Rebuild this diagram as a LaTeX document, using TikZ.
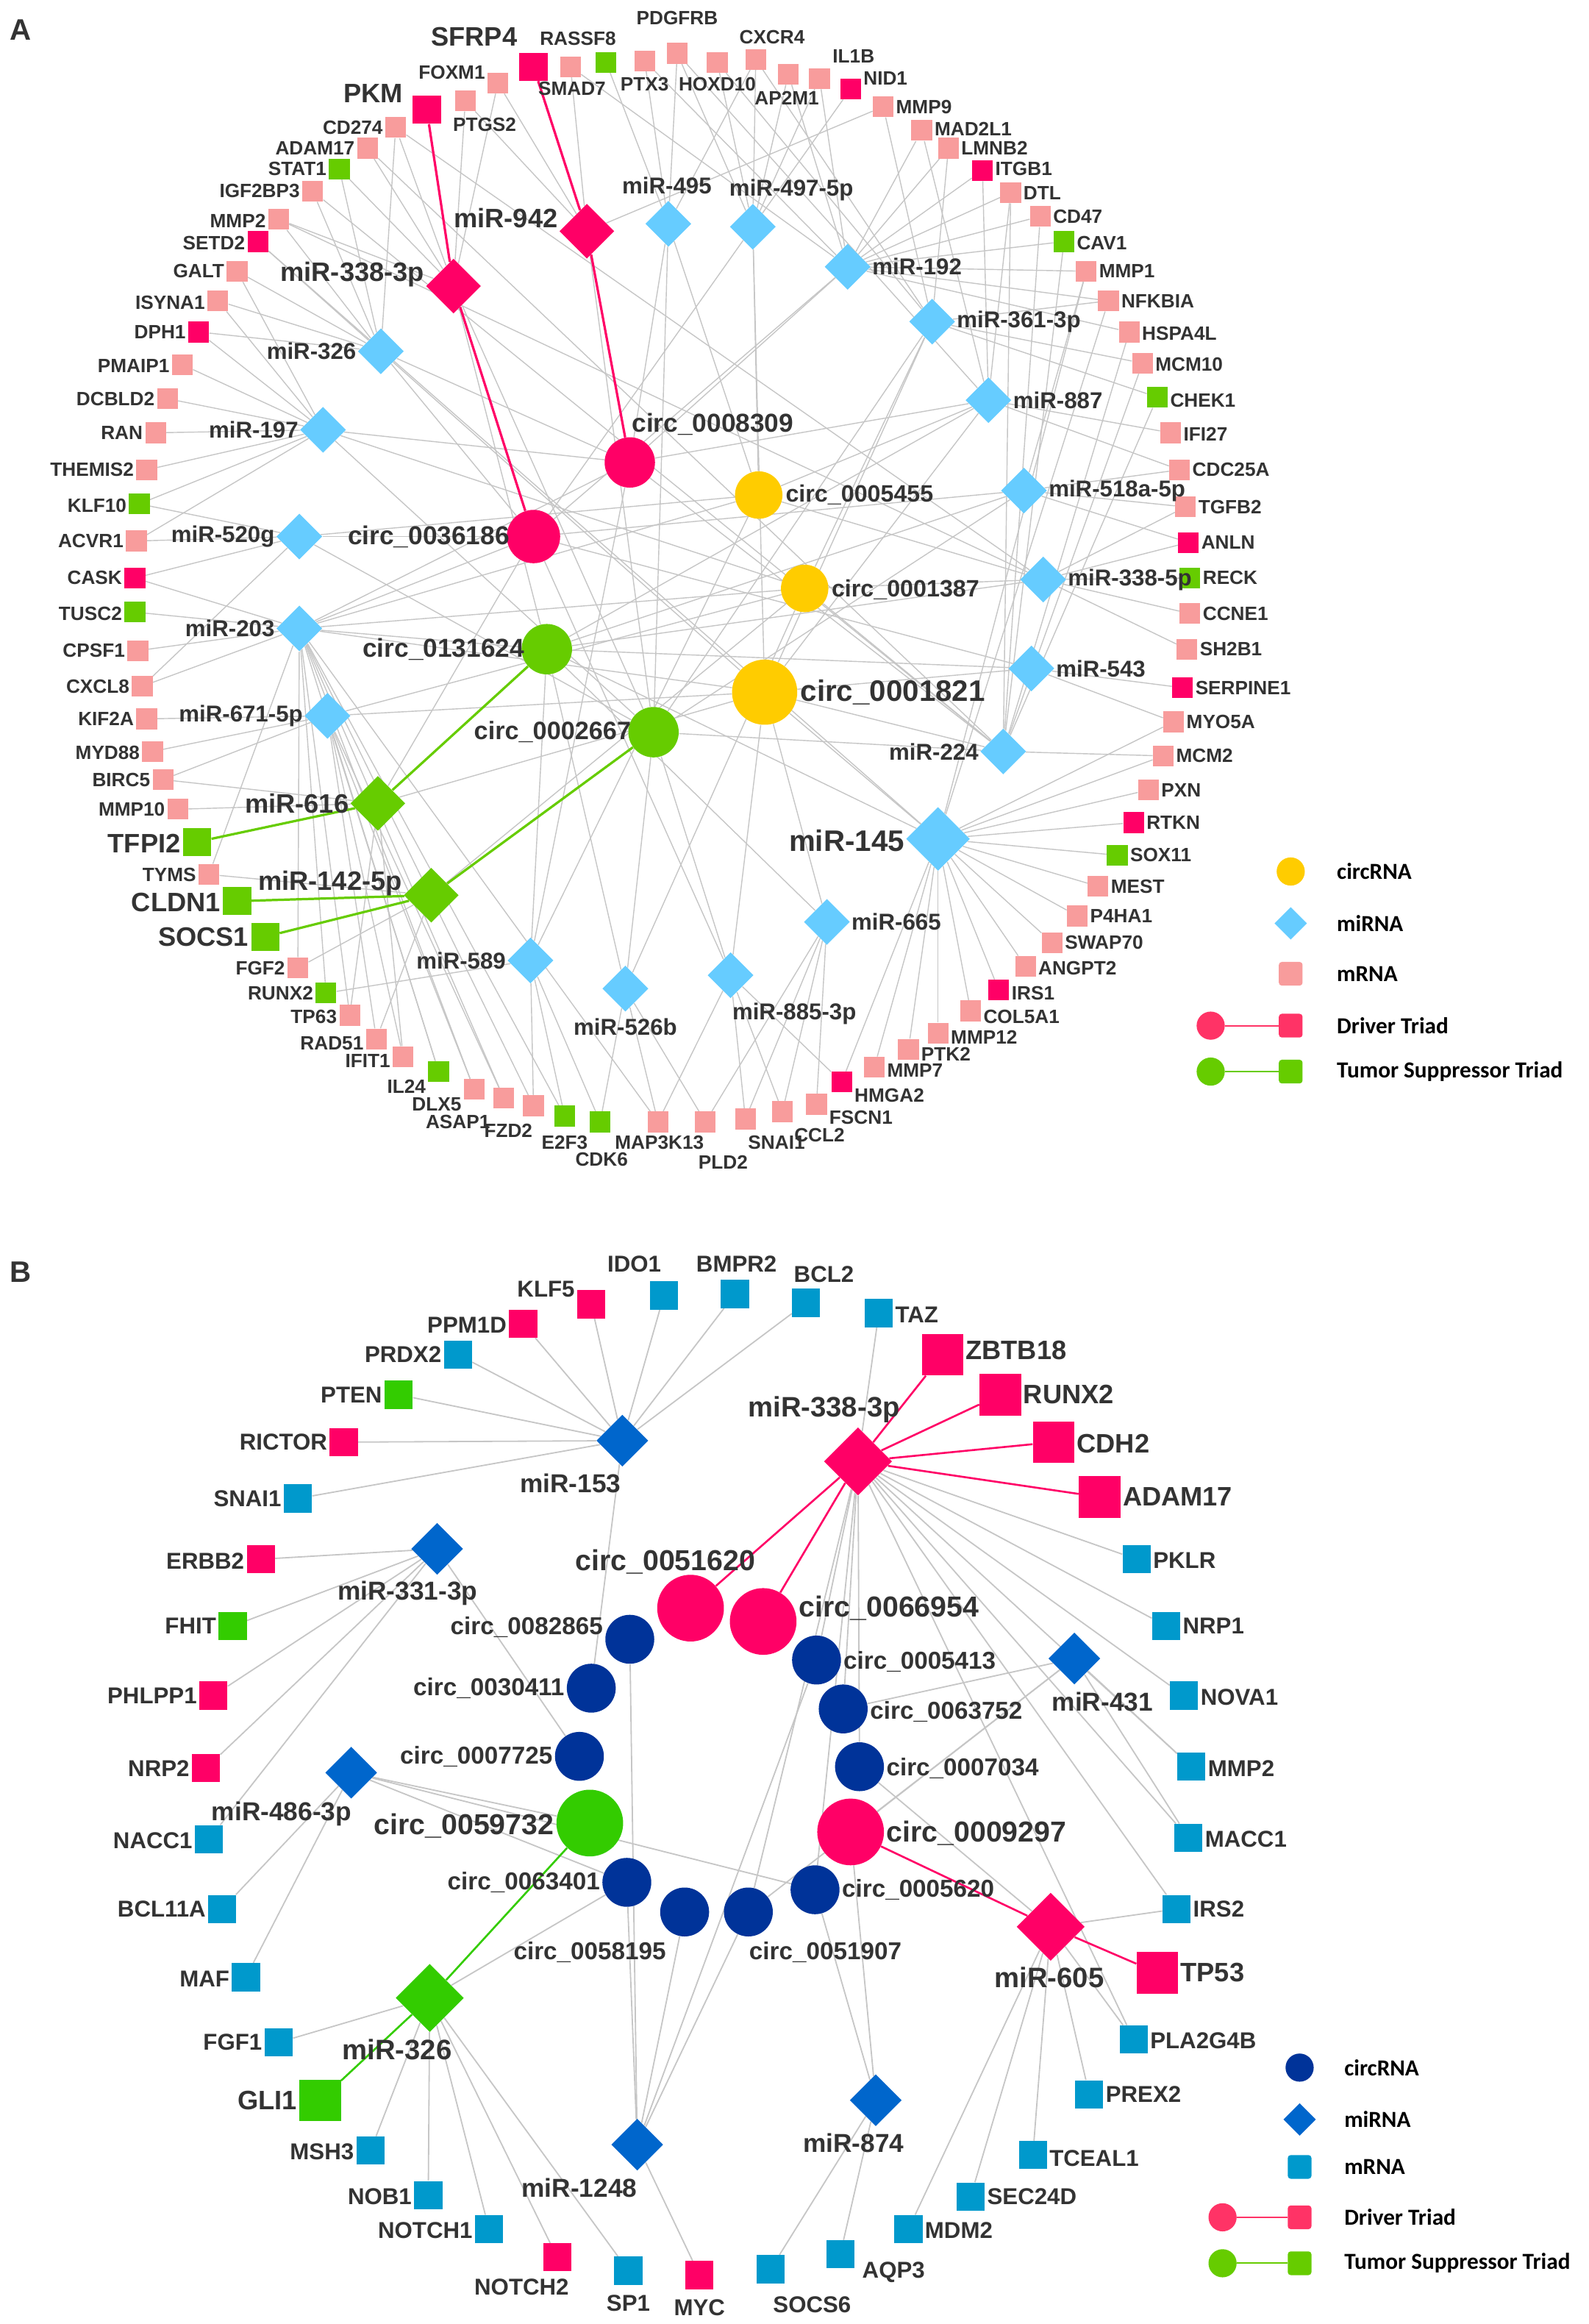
\documentclass[tikz,border=0pt]{standalone}
\usepackage{fontspec}
\setmainfont{Liberation Sans}
\newfontfamily\legfont{Carlito}
\usetikzlibrary{shapes.geometric}

\definecolor{apink}{HTML}{F89C9C}
\definecolor{drv}{HTML}{FF0066}
\definecolor{agreen}{HTML}{66CC00}
\definecolor{amir}{HTML}{66CCFF}
\definecolor{ayel}{HTML}{FFCC00}
\definecolor{bblue}{HTML}{0099CC}
\definecolor{bmir}{HTML}{0066CC}
\definecolor{bnavy}{HTML}{003399}
\definecolor{bgreen}{HTML}{33CC00}
\definecolor{lgdrv}{HTML}{FF3366}
\definecolor{edgegray}{HTML}{C6C6C6}
\definecolor{textgray}{HTML}{333333}

\pgfdeclarelayer{bg}
\pgfsetlayers{bg,main}

\tikzset{
  sq/.style={rectangle, inner sep=0pt, minimum size=#1},
  dia/.style={diamond, aspect=1, inner sep=0pt, minimum width=#1, minimum height=#1},
  rnd/.style={circle, inner sep=0pt, minimum size=#1},
  lab/.style={text=textgray, inner sep=0pt, font=\fontsize{#1}{#1}\selectfont\bfseries},
  legtext/.style={anchor=west, inner sep=0pt, font=\legfont\fontsize{15.5}{15.5}\selectfont\bfseries},
  edge/.style={draw=edgegray, line width=0.7pt},
  drvline/.style={draw=drv, line width=1.6pt},
  supline/.style={draw=agreen, line width=1.6pt},
}

% label beside a node: id, x, y, lx, ly, gap, size, text
\newcommand\putlab[8]{%
  \pgfmathtruncatemacro\labside{abs(#5-#3)>10 ? 0 : (#4>#2 ? 1 : -1)}%
  \ifnum\labside=1
    \node[lab=#7, anchor=west] (l#1) at (#2+#6,#5) {#8};%
  \else\ifnum\labside=-1
    \node[lab=#7, anchor=east] (l#1) at (#2-#6,#5) {#8};%
  \else
    \node[lab=#7] (l#1) at (#4,#5) {#8};%
  \fi\fi}

\begin{document}
\begin{tikzpicture}[x=1pt, y=-1pt]
\useasboundingbox (0,0) rectangle (1072,1568);

% ---------------- panel A ----------------
\node[lab=20] (panA) at (14,20) {A};

% mRNA, light
\foreach \id/\x/\y/\lx/\ly/\t in {
  foxm1/336/56/304/49/FOXM1, ptgs2/314/68/327/84/PTGS2, smad7/385/45/386/60/SMAD7,
  ptx3/435/41/435/57/PTX3, pdgfrb/457/36/457/12/PDGFRB, hoxd10/484/42/484/57/HOXD10,
  cxcr4/510/40/521/25/CXCR4, ap2m1/532/50/531/66/AP2M1, il1b/553/53/576/38/IL1B,
  mmp9/596/72/624/72/MMP9, mad2l1/622/88/660/87/MAD2L1, lmnb2/640/100/677/100/LMNB2,
  dtl/682/130/705/130/DTL, cd47/702/146/728/146/CD47, mmp1/733/183/761/183/MMP1,
  nfkbia/748/203/782/203/NFKBIA, hspa4l/762/224/794/225/HSPA4L, mcm10/771/245/802/246/MCM10,
  ifi27/790/292/814/293/IFI27, cdc25a/796/317/831/317/CDC25A, tgfb2/800/342/831/342/TGFB2,
  ccne1/803/414/833/414/CCNE1, sh2b1/801/438/830/438/SH2B1, myo5a/792/487/824/487/MYO5A,
  mcm2/785/510/812/510/MCM2, pxn/775/533/798/533/PXN, mest/741/598/768/598/MEST,
  p4ha1/727/618/757/618/P4HA1, swap70/710/636/746/636/SWAP70, angpt2/692/652/728/653/ANGPT2,
  col5a1/655/682/690/686/COL5A1, mmp12/633/697/665/700/MMP12, ptk2/613/708/640/711/PTK2,
  mmp7/590/720/617/722/MMP7, fscn1/551/745/588/754/FSCN1, ccl2/528/750/553/766/CCL2,
  snaiA/503/755/524/771/SNAI1, pld2/476/757/488/784/PLD2, map3k13/444/757/445/771/MAP3K13,
  fzd2/360/746/343/763/FZD2, asap1/340/741/309/757/ASAP1, dlx5/320/735/296/745/DLX5,
  ifit1/272/713/249/716/IFIT1, rad51/254/701/224/704/RAD51, tp63/236/685/211/686/TP63,
  fgf2/201/653/176/653/FGF2, tyms/141/590/113/590/TYMS, mmp10/120/546/88/546/MMP10,
  birc5/110/526/81/526/BIRC5, myd88/103/507/73/508/MYD88, kif2a/99/485/71/485/KIF2A,
  cxcl8/96/463/67/463/CXCL8, cpsf1/93/439/62/439/CPSF1, acvr1/92/365/61/365/ACVR1,
  themis2/99/317/62/317/THEMIS2, ran/105/292/83/292/RAN, dcbld2/113/269/78/269/DCBLD2,
  pmaip1/123/246/88/247/PMAIP1, isyna1/147/203/113/204/ISYNA1, galt/160/183/133/183/GALT,
  mmp2A/188/148/160/149/MMP2, igf2bp3/211/129/174/129/IGF2BP3, adam17A/248/100/213/100/ADAM17,
  cd274/267/86/238/86/CD274}{
  \node[sq=14pt, fill=apink] (\id) at (\x,\y) {};
  \putlab{\id}{\x}{\y}{\lx}{\ly}{8.5}{13}{\t}
}
% mRNA, driver
\foreach \id/\x/\y/\lx/\ly/\t in {
  nid1/574/60/597/53/NID1, itgb1/663/115/692/114/ITGB1, anln/802/366/828/366/ANLN,
  serpine1/798/464/838/464/SERPINE1, rtkn/765/555/792/555/RTKN, irs1/674/668/697/670/IRS1,
  hmga2/568/730/600/739/HMGA2, cask/91/390/63/390/CASK, setd2/174/163/143/164/SETD2,
  dph1/134/224/108/224/DPH1}{
  \node[sq=14pt, fill=drv] (\id) at (\x,\y) {};
  \putlab{\id}{\x}{\y}{\lx}{\ly}{8.5}{13}{\t}
}
% mRNA, suppressor
\foreach \id/\x/\y/\lx/\ly/\t in {
  rassf8/409/42/390/26/RASSF8, cav1/718/163/744/164/CAV1, chek1/781/268/810/270/CHEK1,
  reck/803/390/830/390/RECK, sox11/754/577/783/577/SOX11, il24/296/723/275/733/IL24,
  e2f3/381/753/381/771/E2F3, cdk6/405/757/406/782/CDK6, runx2A/220/670/189/670/RUNX2,
  tusc2/91/413/60/414/TUSC2, klf10/94/340/66/341/KLF10, stat1/229/114/198/114/STAT1}{
  \node[sq=14pt, fill=agreen] (\id) at (\x,\y) {};
  \putlab{\id}{\x}{\y}{\lx}{\ly}{8.5}{13}{\t}
}
% mRNA of the triads
\foreach \id/\x/\y/\lx/\ly/\t/\c in {
  sfrp4/360/45/320/25/SFRP4/drv, pkm/288/74/252/63/PKM/drv, tfpi2/133/568/100/569/TFPI2/agreen,
  cldn1/160/608/121/609/CLDN1/agreen, socs1/179/632/138/632/SOCS1/agreen}{
  \node[sq=19pt, fill=\c] (\id) at (\x,\y) {};
  \putlab{\id}{\x}{\y}{\lx}{\ly}{11}{18}{\t}
}

% miRNA
\foreach \id/\x/\y/\lx/\ly/\t in {
  m495/451/151/450/125/miR-495, m497/508/153/534/128/miR-497-5p, m192/572/180/620/180/miR-192,
  m361/629/217/681/217/miR-361-3p, m887/667/270/715/270/miR-887, m518/691/331/743/331/miR-518a-5p,
  m3385/704/391/756/391/miR-338-5p, m543/696/451/745/451/miR-543, m224/677/507/630/507/miR-224,
  m665/558/622/606/622/miR-665, m885/493/658/536/684/miR-885-3p, m526/422/667/422/693/miR-526b,
  m589/358/648/311/648/miR-589, m671/221/483/158/483/miR-671-5p, m203/202/424/155/424/miR-203,
  m520/202/362/151/362/miR-520g, m197/218/290/171/290/miR-197, m326A/257/237/210/237/miR-326}{
  \node[dia=31pt, fill=amir] (\id) at (\x,\y) {};
  \putlab{\id}{\x}{\y}{\lx}{\ly}{16.5}{15.5}{\t}
}
\foreach \id/\x/\y/\lx/\ly/\t/\c in {
  m942/396/156/341/147/miR-942/drv, m338A/306/193/235/185/miR-338-3p/drv,
  m616/255/542/201/542/miR-616/agreen, m142/291/604/221/596/miR-142-5p/agreen}{
  \node[dia=37pt, fill=\c] (\id) at (\x,\y) {};
  \putlab{\id}{\x}{\y}{\lx}{\ly}{19.5}{18}{\t}
}
\node[dia=43pt, fill=amir] (m145) at (633,566) {};
\putlab{m145}{633}{566}{573}{567}{22.5}{20}{miR-145}

% circRNA
\foreach \id/\x/\y/\lx/\ly/\d/\s/\t/\c in {
  c8309/425/312/481/286/34/17.5/0008309/drv, c36186/360/362/283/362/36/17.5/0036186/drv,
  c5455/512/334/578/334/32/16/0005455/ayel, c1387/543/397/610/398/32/16/0001387/ayel,
  c1821/516/467/600/467/44/20/0001821/ayel, c131624/369/438/292/438/34/17.5/0131624/agreen,
  c2667/441/494/363/494/34/17/0002667/agreen}{
  \node[rnd=\d pt, fill=\c] (\id) at (\x,\y) {};
  \putlab{\id}{\x}{\y}{\lx}{\ly}{\d/2+2}{\s}{circ\_\t}
}

% legend A
\node[rnd=19pt, fill=ayel] (lgA1) at (871,588) {};
\node[legtext] (tA1) at (902,588) {circRNA};
\node[dia=22pt, fill=amir] (lgA2) at (871,623) {};
\node[legtext] (tA2) at (902,623) {miRNA};
\node[sq=16pt, fill=apink, rounded corners=2pt] (lgA3) at (871,657) {};
\node[legtext] (tA3) at (902,657) {mRNA};
\node[rnd=19pt, fill=lgdrv] (lgA4) at (817,692) {};
\node[sq=16pt, fill=lgdrv, rounded corners=2pt] (lgA5) at (871,692) {};
\node[legtext] (tA4) at (902,692) {Driver Triad};
\node[rnd=19pt, fill=agreen] (lgA6) at (817,723) {};
\node[sq=16pt, fill=agreen, rounded corners=2pt] (lgA7) at (871,723) {};
\node[legtext] (tA5) at (902,723) {Tumor Suppressor Triad};

\begin{pgfonlayer}{bg}
\foreach \a/\bs in {
  m338A/{foxm1,ptgs2,cd274,adam17A,mmp2A,stat1,c131624,c2667},
  m942/{smad7,ptgs2,foxm1,mmp9,c2667},
  m495/{ptx3,pdgfrb,rassf8,cxcr4,c8309,c5455,c2667},
  m497/{hoxd10,cxcr4,ap2m1,il1b,nid1,pdgfrb,c5455,c1821,c36186},
  m192/{il1b,mad2l1,lmnb2,itgb1,dtl,cd47,cav1,mmp1,nfkbia,hspa4l,ap2m1,ptx3,smad7,c8309,c36186},
  m361/{mmp9,mcm10,chek1,lmnb2,nfkbia,hoxd10,cxcr4,c1387,c1821,c2667},
  m887/{cdc25a,ifi27,itgb1,dtl,mad2l1,pdgfrb,c8309,c5455,c131624,c1821},
  m518/{mmp1,tgfb2,cdc25a,anln,c36186,c2667,c131624},
  m3385/{reck,ccne1,sh2b1,anln,tgfb2,mmp2A,cd274,c5455,c1387,c131624},
  m543/{serpine1,myo5a,c1821,c36186,c131624},
  m224/{mcm2,cd47,cav1,hspa4l,mcm10,chek1,dtl,adam17A,igf2bp3,c1387,c1821,c8309,c2667},
  m145/{myo5a,mcm2,pxn,rtkn,sox11,mest,p4ha1,swap70,angpt2,irs1,col5a1,mmp12,ptk2,mmp7,hmga2,mmp1,nfkbia,setd2,c1821,c131624},
  m665/{ccl2,fscn1,pld2,snaiA,c1821,c131624},
  m885/{snaiA,ccl2,hmga2,map3k13,c1821,c2667,c36186},
  m526/{map3k13,pld2,cdk6,c131624,c2667,c1387},
  m589/{e2f3,cdk6,fzd2,runx2A,c8309,c131624,c5455},
  m142/{fgf2,tyms,rad51,c1387},
  m616/{mmp10,birc5,tp63,ifit1,c36186,c1821},
  m671/{kif2a,myd88,birc5,rad51,il24,dlx5,asap1,ifit1,c1821,c1387},
  m203/{tusc2,cpsf1,cxcl8,cask,fgf2,runx2A,tp63,il24,dlx5,asap1,e2f3,fzd2,tyms,map3k13,c36186,c1387,c1821,c131624,c5455,c8309},
  m520/{acvr1,klf10,cask,cxcl8,c36186,c2667,c5455},
  m197/{ran,dcbld2,pmaip1,themis2,klf10,dph1,galt,isyna1,acvr1,c8309,c2667,c1387},
  m326A/{isyna1,galt,setd2,dph1,igf2bp3,stat1,mmp2A,cd274,c8309,c36186,c1821}}{
  \foreach \b in \bs {\draw[edge] (\a) -- (\b);}
}
\draw[drvline] (pkm) -- (m338A) -- (c36186);
\draw[drvline] (sfrp4) -- (m942) -- (c8309);
\draw[supline] (tfpi2) -- (m616) -- (c131624);
\draw[supline] (cldn1) -- (m142);
\draw[supline] (socs1) -- (m142) -- (c2667);
\draw[draw=lgdrv, line width=1pt] (lgA4) -- (lgA5);
\draw[draw=agreen, line width=1pt] (lgA6) -- (lgA7);
\end{pgfonlayer}

% ---------------- panel B ----------------
\node[lab=20] (panB) at (14,858) {B};

\foreach \id/\x/\y/\lx/\ly/\t in {
  ido1/448/874/428/853/IDO1, bmpr2/496/873/497/853/BMPR2, bcl2/544/879/556/860/BCL2,
  taz/593/886/621/887/TAZ, prdx2/309/914/270/914/PRDX2, snaiB/201/1011/166/1011/SNAI1,
  pklr/767/1052/801/1053/PKLR, nrp1/787/1097/820/1097/NRP1, nova1/799/1144/834/1145/NOVA1,
  mmp2B/804/1192/840/1193/MMP2, macc1/802/1240/840/1241/MACC1, irs2/794/1288/826/1288/IRS2,
  pla2g4b/765/1376/815/1377/PLA2G4B, prex2/735/1413/775/1413/PREX2, tceal1/697/1454/743/1456/TCEAL1,
  sec24d/655/1482/699/1482/SEC24D, mdm2/613/1504/649/1505/MDM2, aqp3/567/1521/603/1533/AQP3,
  socs6/520/1531/548/1555/SOCS6, sp1/424/1532/424/1554/SP1, notch1/330/1504/291/1505/NOTCH1,
  nob1/289/1481/254/1482/NOB1, msh3/250/1451/216/1452/MSH3, fgf1/188/1378/155/1378/FGF1,
  maf/166/1334/138/1335/MAF, bcl11a/150/1288/107/1288/BCL11A, nacc1/141/1241/102/1242/NACC1}{
  \node[sq=19pt, fill=bblue] (\id) at (\x,\y) {};
  \putlab{\id}{\x}{\y}{\lx}{\ly}{11}{15.5}{\t}
}
\foreach \id/\x/\y/\lx/\ly/\t in {
  klf5/399/880/368/870/KLF5, ppm1d/353/893/313/894/PPM1D, rictor/232/973/190/973/RICTOR,
  erbb2/176/1052/138/1053/ERBB2, phlpp1/144/1144/102/1144/PHLPP1, nrp2/139/1193/106/1193/NRP2,
  notch2/376/1523/352/1543/NOTCH2, myc/472/1535/472/1557/MYC}{
  \node[sq=19pt, fill=drv] (\id) at (\x,\y) {};
  \putlab{\id}{\x}{\y}{\lx}{\ly}{11}{15.5}{\t}
}
\foreach \id/\x/\y/\lx/\ly/\t in {pten/269/941/237/941/PTEN, fhit/157/1097/128/1097/FHIT}{
  \node[sq=19pt, fill=bgreen] (\id) at (\x,\y) {};
  \putlab{\id}{\x}{\y}{\lx}{\ly}{11}{15.5}{\t}
}
\foreach \id/\x/\y/\lx/\ly/\t/\c in {
  zbtb18/636/914/686/911/ZBTB18/drv, runx2B/675/941/722/941/RUNX2/drv, cdh2/711/973/752/974/CDH2/drv,
  adam17B/742/1010/782/1010/ADAM17/drv, tp53/781/1331/818/1331/TP53/drv, gli1/216/1417/182/1417/GLI1/bgreen}{
  \node[sq=28pt, fill=\c] (\id) at (\x,\y) {};
  \putlab{\id}{\x}{\y}{\lx}{\ly}{15.5}{18}{\t}
}

% miRNA
\foreach \id/\x/\y/\lx/\ly/\t in {
  m153/420/972/385/1001/miR-153, m331/295/1045/275/1075/miR-331-3p, m431/725/1119/744/1148/miR-431,
  m486/237/1196/190/1224/miR-486-3p, m874/591/1417/576/1446/miR-874, m1248/430/1447/391/1476/miR-1248}{
  \node[dia=35pt, fill=bmir] (\id) at (\x,\y) {};
  \putlab{\id}{\x}{\y}{\lx}{\ly}{18.5}{17.5}{\t}
}
\foreach \id/\x/\y/\lx/\ly/\t/\c in {
  m338B/579/986/556/951/miR-338-3p/drv, m605/709/1300/708/1334/miR-605/drv,
  m326B/290/1348/268/1383/miR-326/bgreen}{
  \node[dia=46pt, fill=\c] (\id) at (\x,\y) {};
  \putlab{\id}{\x}{\y}{\lx}{\ly}{24}{19}{\t}
}

% circRNA
\foreach \id/\x/\y/\lx/\ly/\t in {
  c82865/425/1106/357/1098/0082865, c5413/551/1120/606/1121/0005413, c30411/399/1139/331/1139/0030411,
  c63752/569/1153/636/1155/0063752, c7725/391/1185/322/1185/0007725, c7034/580/1192/649/1193/0007034,
  c63401/423/1270/353/1270/0063401, c5620/550/1275/616/1275/0005620, c58195/462/1290/398/1317/0058195,
  c51907/505/1290/557/1317/0051907}{
  \node[rnd=33pt, fill=bnavy] (\id) at (\x,\y) {};
  \putlab{\id}{\x}{\y}{\lx}{\ly}{18}{16.5}{circ\_\t}
}
\foreach \id/\x/\y/\lx/\ly/\t/\c in {
  c51620/466/1085/449/1054/0051620/drv, c66954/515/1094/587/1085/0066954/drv,
  c59732/398/1230/309/1232/0059732/bgreen, c9297/574/1236/659/1237/0009297/drv}{
  \node[rnd=45pt, fill=\c] (\id) at (\x,\y) {};
  \putlab{\id}{\x}{\y}{\lx}{\ly}{24}{19.5}{circ\_\t}
}

% legend B
\node[rnd=19pt, fill=bnavy] (lgB1) at (877,1395) {};
\node[legtext] (tB1) at (907,1395) {circRNA};
\node[dia=22pt, fill=bmir] (lgB2) at (877,1430) {};
\node[legtext] (tB2) at (907,1430) {miRNA};
\node[sq=16pt, fill=bblue, rounded corners=2pt] (lgB3) at (877,1462) {};
\node[legtext] (tB3) at (907,1462) {mRNA};
\node[rnd=19pt, fill=lgdrv] (lgB4) at (825,1496) {};
\node[sq=16pt, fill=lgdrv, rounded corners=2pt] (lgB5) at (877,1496) {};
\node[legtext] (tB4) at (907,1496) {Driver Triad};
\node[rnd=19pt, fill=agreen] (lgB6) at (825,1527) {};
\node[sq=16pt, fill=agreen, rounded corners=2pt] (lgB7) at (877,1527) {};
\node[legtext] (tB5) at (907,1527) {Tumor Suppressor Triad};

\begin{pgfonlayer}{bg}
\foreach \a/\bs in {
  m153/{klf5,ido1,bmpr2,bcl2,ppm1d,prdx2,pten,rictor,snaiB,c30411},
  m338B/{taz,pklr,nrp1,nova1,mmp2B,macc1,irs2,pla2g4b,c5413,c7034,c63752,c5620,c51907},
  m331/{erbb2,fhit,phlpp1,nrp2,nacc1,c7725},
  m486/{bcl11a,maf,c59732,c63401,c5620},
  m431/{c63752,c9297,mmp2B,macc1,c51907},
  m605/{pla2g4b,prex2,tceal1,sec24d,mdm2,irs2,c7034},
  m326B/{fgf1,msh3,nob1,notch1,notch2,sp1,c63401},
  m1248/{c82865,c63401,c5413,c51907,myc,c58195},
  m874/{c5620,socs6,aqp3,c9297}}{
  \foreach \b in \bs {\draw[edge, line width=0.9pt] (\a) -- (\b);}
}
\foreach \b in {zbtb18,runx2B,cdh2,adam17B,c51620,c66954}{
  \draw[drvline, line width=1.3pt] (m338B) -- (\b);
}
\draw[drvline, line width=1.3pt] (c9297) -- (m605) -- (tp53);
\draw[draw=bgreen, line width=1.3pt] (c59732) -- (m326B) -- (gli1);
\draw[draw=lgdrv, line width=1pt] (lgB4) -- (lgB5);
\draw[draw=agreen, line width=1pt] (lgB6) -- (lgB7);
\end{pgfonlayer}
\end{tikzpicture}
\end{document}
